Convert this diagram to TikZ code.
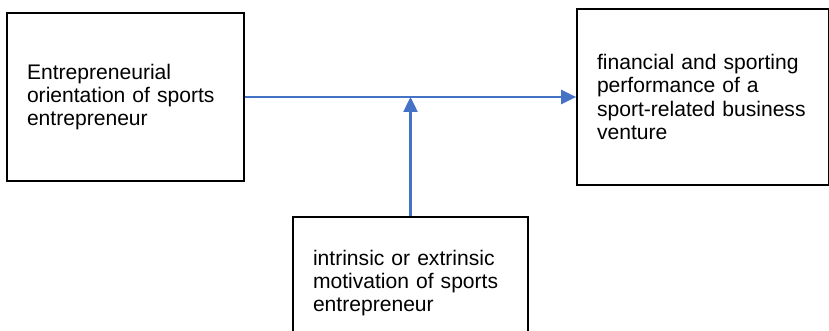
\documentclass[tikz,border=0pt]{standalone}
\usepackage{fontspec}
\setmainfont{Liberation Sans}
\usepackage{xcolor}
\definecolor{linkblue}{RGB}{68,114,196}
\usetikzlibrary{arrows.meta,positioning}

\begin{document}
\begin{tikzpicture}[x=0.02cm,y=-0.02cm,
    box/.style={draw,line width=1pt,inner xsep=0.4cm,align=left,
                font=\fontsize{12}{13.3}\selectfont},
    link/.style={draw=linkblue,line width=1.4pt,
                 -{Triangle[length=0.3cm,width=0.28cm]}}]
  \useasboundingbox (0,0) rectangle (829,331);
  %% Predictor
  \node[box,text width=3.94cm,minimum height=3.36cm] (orient) at (125.5,97)
        {Entrepreneurial\\orientation of sports\\entrepreneur};
  %% Outcome
  \node[box,text width=4.24cm,minimum height=3.52cm] (perf) at (703,97)
        {financial and sporting\\performance of a\\sport-related business\\venture};
  %% Moderator
  \node[box,text width=3.9cm,minimum height=2.64cm] (motiv) at (410.5,283)
        {intrinsic or extrinsic\\motivation of sports\\entrepreneur};
  %% Links
  \draw[link] (orient.east) -- (perf.west);
  \coordinate (meet) at (motiv.north |- orient.east);
  \draw[link] (motiv.north) -- (meet);
\end{tikzpicture}
\end{document}
